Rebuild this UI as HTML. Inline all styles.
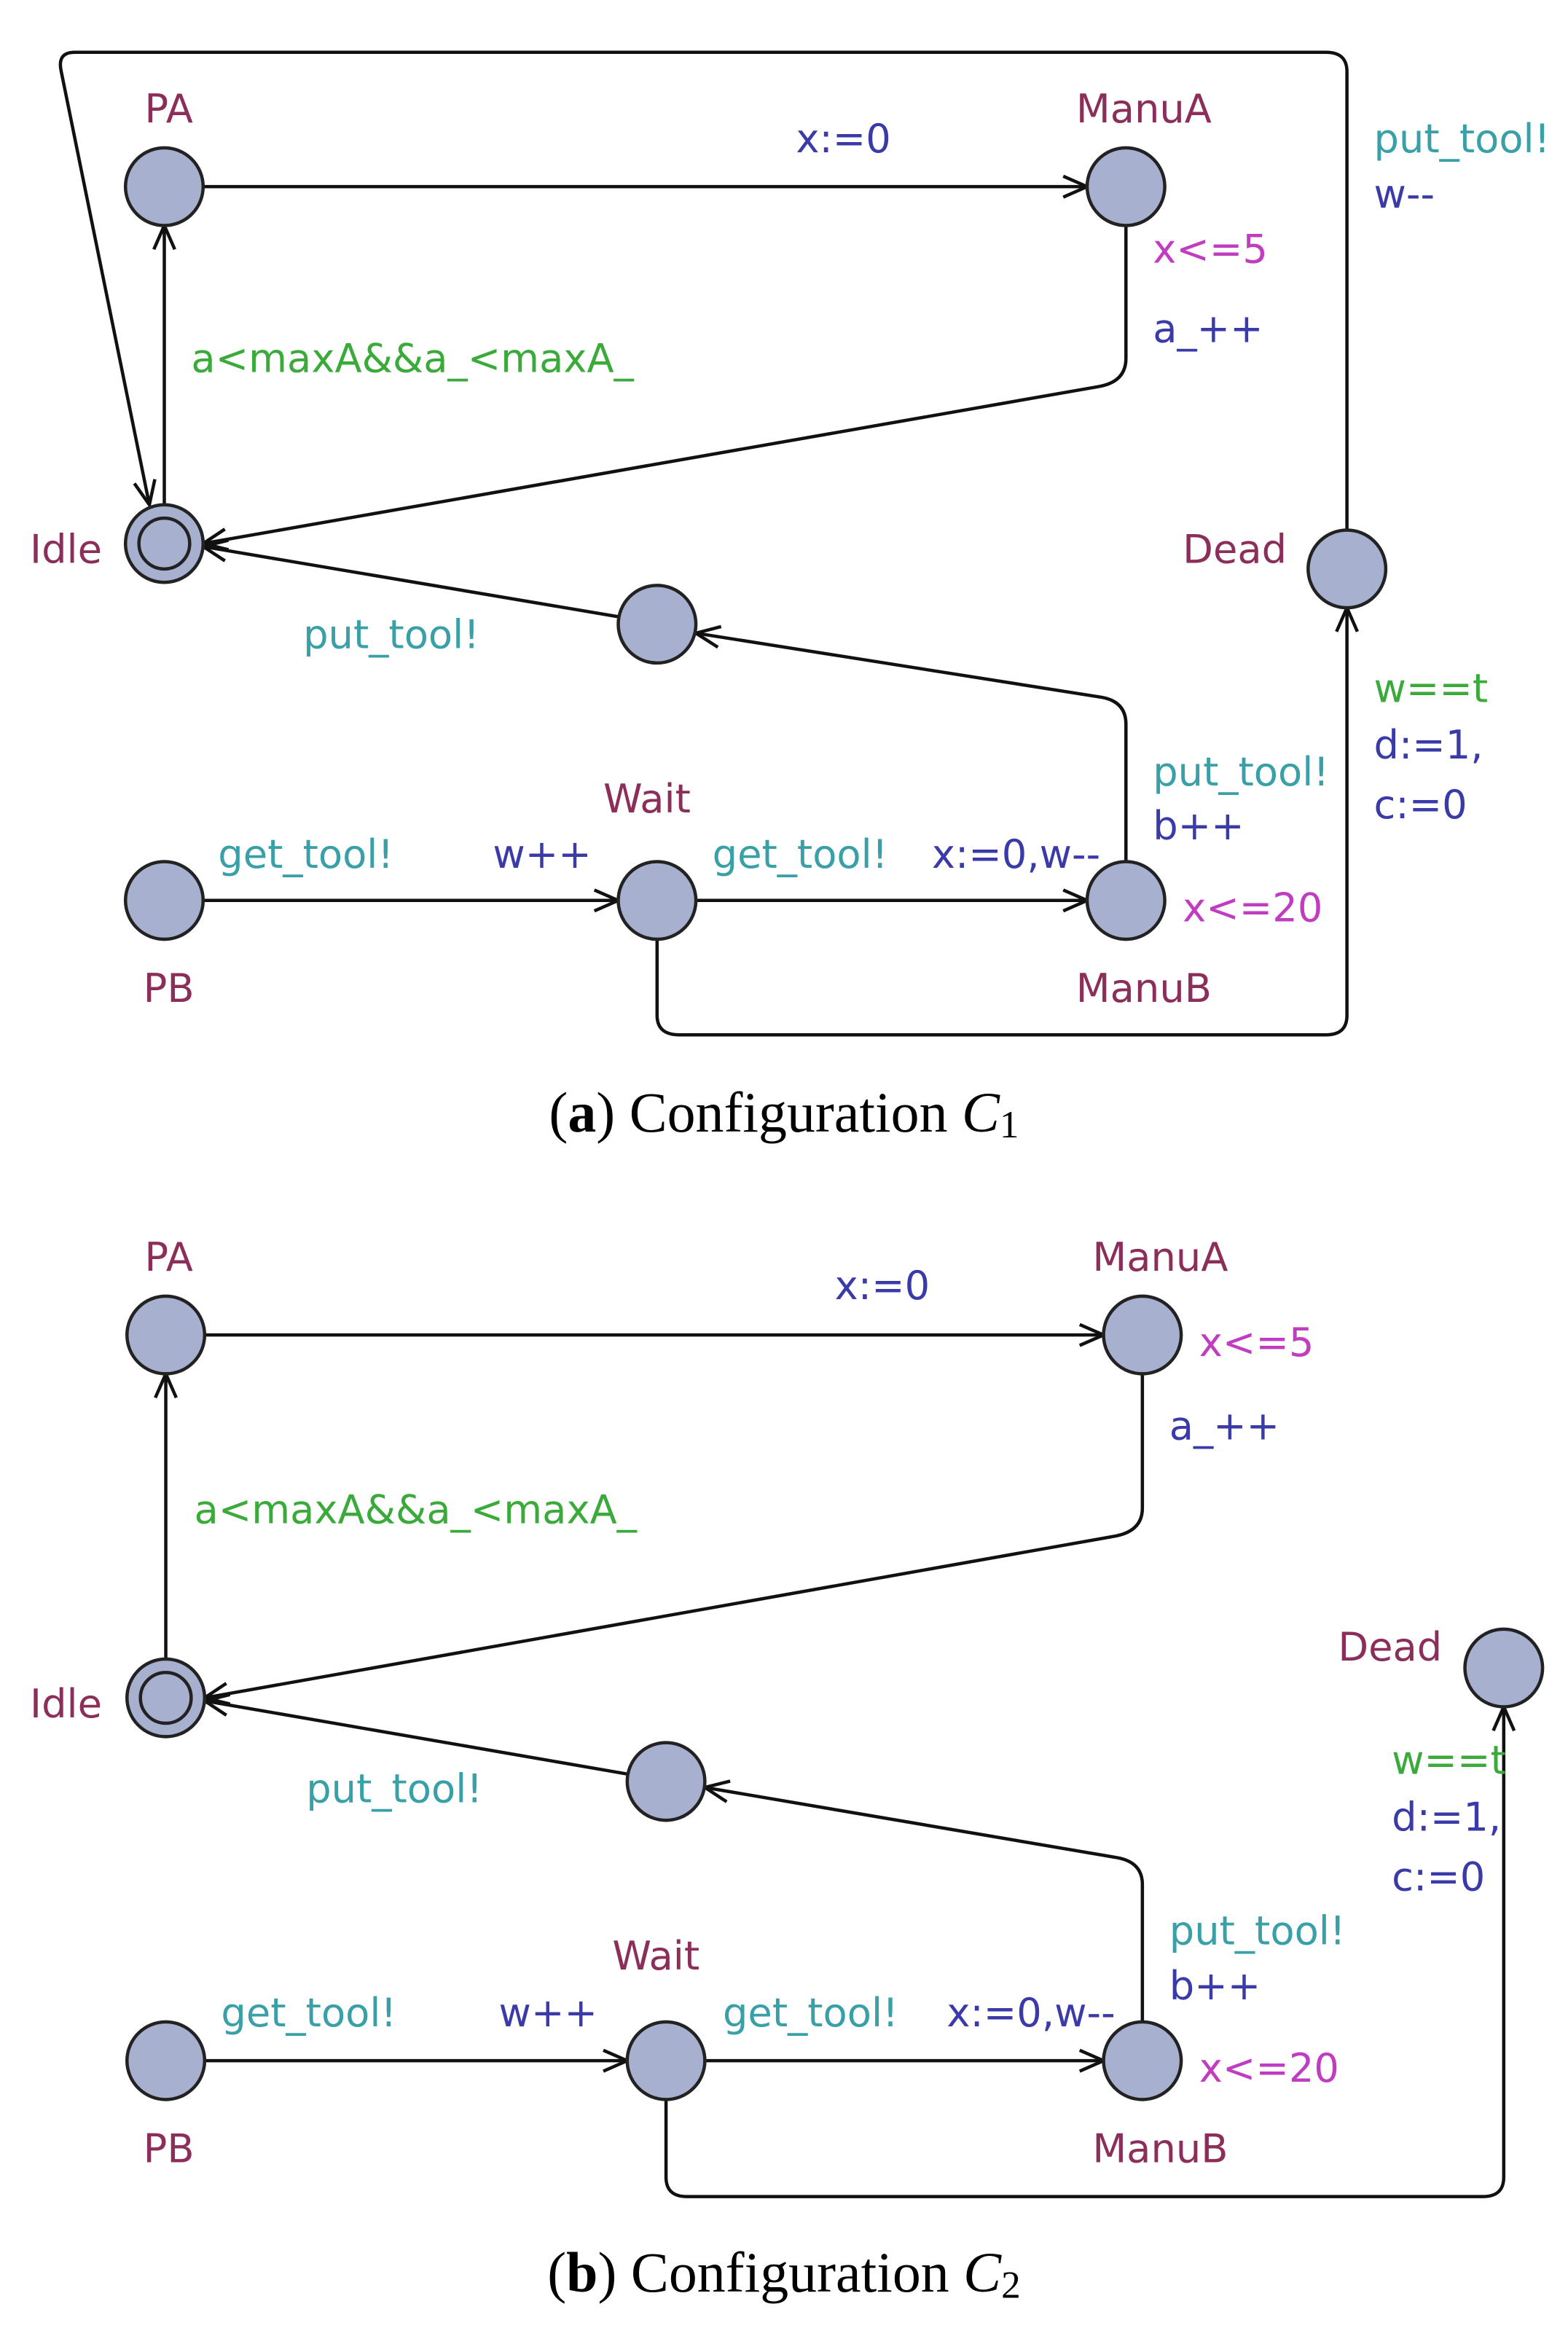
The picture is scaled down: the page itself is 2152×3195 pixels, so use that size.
<!DOCTYPE html>
<html><head><meta charset="utf-8"><style>
html,body{margin:0;padding:0;background:#fff;}
svg{display:block;}
text{font-family:"DejaVu Sans","Liberation Sans",sans-serif;font-size:26.5px;dominant-baseline:central;}
.n{fill:#8b2f5a}.b{fill:#3a3aa8}.t{fill:#3aa0a8}.g{fill:#3aaa3a}.m{fill:#c03cc0}
.cap{font-family:"Liberation Serif",serif;font-size:38px;fill:#000}
circle{fill:#a8b0d0;stroke:#222;stroke-width:2.2}
path.e{fill:none;stroke:#111;stroke-width:2.2;marker-end:url(#ar)}
</style></head><body>
<svg width="2152" height="3195" viewBox="0 0 1050 1559" xmlns="http://www.w3.org/2000/svg">
<defs><marker id="ar" markerWidth="20" markerHeight="20" refX="18" refY="10" orient="auto" markerUnits="userSpaceOnUse">
<polyline points="2,3 18,10 2,17" fill="none" stroke="#111" stroke-width="2.2"/></marker></defs>
<path class="e" d="M902,355 V48 Q902,35 888,35 H50 Q38,35 41,48 L100,338"/>
<path class="e" d="M110,338 V151"/>
<path class="e" d="M136,125 H728"/>
<path class="e" d="M754,151 V240 Q754,256 735,259 L136,364"/>
<path class="e" d="M414,413 L136,366"/>
<path class="e" d="M754,577 V485 Q754,470 738,467 L466,424"/>
<path class="e" d="M136,603 H414"/>
<path class="e" d="M466,603 H728"/>
<path class="e" d="M440,629 V680 Q440,693 455,693 H888 Q902,693 902,680 V407"/>
<circle cx="110" cy="125" r="26"/><circle cx="754" cy="125" r="26"/>
<circle cx="110" cy="364" r="26"/><circle cx="110" cy="364" r="17"/>
<circle cx="902" cy="381" r="26"/><circle cx="440" cy="418" r="26"/>
<circle cx="110" cy="603" r="26"/><circle cx="440" cy="603" r="26"/><circle cx="754" cy="603" r="26"/>
<text class="n" x="113" y="73" text-anchor="middle">PA</text>
<text class="n" x="766" y="73" text-anchor="middle">ManuA</text>
<text class="b" x="533" y="93">x:=0</text>
<text class="t" x="920" y="93">put_tool!</text>
<text class="b" x="920" y="130">w--</text>
<text class="m" x="772" y="167">x&lt;=5</text>
<text class="b" x="772" y="220">a_++</text>
<text class="g" x="128" y="240">a&lt;maxA&amp;&amp;a_&lt;maxA_</text>
<text class="n" x="20" y="368">Idle</text>
<text class="n" x="792" y="368">Dead</text>
<text class="t" x="203" y="425">put_tool!</text>
<text class="g" x="920" y="461">w==t</text>
<text class="b" x="920" y="499">d:=1,</text>
<text class="b" x="920" y="539">c:=0</text>
<text class="t" x="772" y="517">put_tool!</text>
<text class="b" x="772" y="553">b++</text>
<text class="n" x="404" y="535">Wait</text>
<text class="t" x="146" y="572">get_tool!</text>
<text class="b" x="330" y="572">w++</text>
<text class="t" x="477" y="572">get_tool!</text>
<text class="b" x="624" y="572">x:=0,w--</text>
<text class="m" x="792" y="608">x&lt;=20</text>
<text class="n" x="113" y="662" text-anchor="middle">PB</text>
<text class="n" x="766" y="662" text-anchor="middle">ManuB</text>
<text class="cap" x="525" y="745" text-anchor="middle">(<tspan font-weight="bold">a</tspan>) Configuration <tspan font-style="italic">C</tspan><tspan font-size="26" dy="8">1</tspan></text>
<path class="e" d="M111,1111 V920"/>
<path class="e" d="M137,894 H739"/>
<path class="e" d="M765,920 V1010 Q765,1026 745,1029 L137,1137"/>
<path class="e" d="M420,1188 L137,1139"/>
<path class="e" d="M765,1354 V1262 Q765,1247 748,1244 L472,1197"/>
<path class="e" d="M137,1380 H420"/>
<path class="e" d="M472,1380 H739"/>
<path class="e" d="M446,1406 V1458 Q446,1471 460,1471 H993 Q1007,1471 1007,1458 V1143"/>
<circle cx="111" cy="894" r="26"/><circle cx="765" cy="894" r="26"/>
<circle cx="111" cy="1137" r="26"/><circle cx="111" cy="1137" r="17"/>
<circle cx="1007" cy="1117" r="26"/><circle cx="446" cy="1193" r="26"/>
<circle cx="111" cy="1380" r="26"/><circle cx="446" cy="1380" r="26"/><circle cx="765" cy="1380" r="26"/>
<text class="n" x="113" y="842" text-anchor="middle">PA</text>
<text class="n" x="777" y="842" text-anchor="middle">ManuA</text>
<text class="b" x="559" y="861">x:=0</text>
<text class="m" x="803" y="899">x&lt;=5</text>
<text class="b" x="783" y="955">a_++</text>
<text class="g" x="130" y="1011">a&lt;maxA&amp;&amp;a_&lt;maxA_</text>
<text class="n" x="20" y="1141">Idle</text>
<text class="n" x="896" y="1103">Dead</text>
<text class="t" x="205" y="1198">put_tool!</text>
<text class="g" x="932" y="1179">w==t</text>
<text class="b" x="932" y="1217">d:=1,</text>
<text class="b" x="932" y="1257">c:=0</text>
<text class="t" x="783" y="1293">put_tool!</text>
<text class="b" x="783" y="1330">b++</text>
<text class="n" x="410" y="1310">Wait</text>
<text class="t" x="148" y="1348">get_tool!</text>
<text class="b" x="334" y="1348">w++</text>
<text class="t" x="484" y="1348">get_tool!</text>
<text class="b" x="634" y="1348">x:=0,w--</text>
<text class="m" x="803" y="1385">x&lt;=20</text>
<text class="n" x="113" y="1439" text-anchor="middle">PB</text>
<text class="n" x="777" y="1439" text-anchor="middle">ManuB</text>
<text class="cap" x="525" y="1522" text-anchor="middle">(<tspan font-weight="bold">b</tspan>) Configuration <tspan font-style="italic">C</tspan><tspan font-size="26" dy="8">2</tspan></text>
</svg>
</body></html>
